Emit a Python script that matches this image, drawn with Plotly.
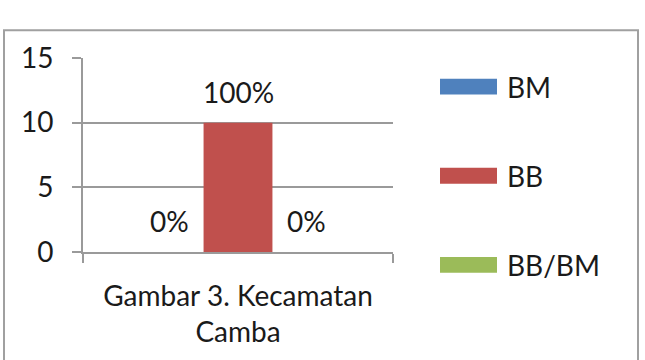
import plotly.graph_objects as go

categories = ["Gambar 3. Kecamatan<br>Camba"]
series_names = ["BM", "BB", "BB/BM"]
series_values = [0, 10, 0]
data_labels = ["0%", "100%", "0%"]
series_colors = ["#4F81BD", "#C0504D", "#9BBB59"]
y_ticks = [0, 5, 10, 15]

FONT = "Lato"
FS = 28
TXT = "#1a1a1a"
GRID = "#9A9A9A"

W, H = 645, 360
ml, mr, mt, mb = 83, 252, 58, 106
plot_w = W - ml - mr
plot_h = H - mt - mb
bargap = 1/3
bar_w = plot_w * (1 - bargap) / len(series_names)


def px_x(p):
    return (p - ml) / plot_w


def px_y(p):
    return (H - mb - p) / plot_h


fig = go.Figure()
for name, val, col in zip(series_names, series_values, series_colors):
    fig.add_trace(go.Bar(name=name, x=categories, y=[val], marker_color=col,
                         marker_line_width=0, showlegend=False))

n = len(series_names)
for i, (val, lab) in enumerate(zip(series_values, data_labels)):
    fig.add_annotation(x=categories[0], y=val, text=lab, showarrow=False,
                       xshift=(i - (n - 1) / 2) * bar_w, yshift=31,
                       yanchor="middle", font=dict(family=FONT, size=FS, color=TXT))

# outer chart border
fig.add_shape(type="rect", xref="paper", yref="paper",
              x0=px_x(4), x1=px_x(638), y0=px_y(365), y1=px_y(30),
              line=dict(color="#A0A0A0", width=2), fillcolor="rgba(0,0,0,0)", layer="below")

# legend (manual, wide swatches)
leg_x0, leg_x1, leg_text_x = 440, 497, 505
leg_y_first, leg_step, sw_h = 87, 90, 16
for i, (name, col) in enumerate(zip(series_names, series_colors)):
    yc = leg_y_first + i * leg_step
    fig.add_shape(type="rect", xref="paper", yref="paper",
                  x0=px_x(leg_x0), x1=px_x(leg_x1),
                  y0=px_y(yc + sw_h / 2), y1=px_y(yc - sw_h / 2),
                  line=dict(width=0), fillcolor=col)
    fig.add_annotation(xref="paper", yref="paper", x=px_x(leg_text_x), y=px_y(yc),
                       xanchor="left", yanchor="middle", text=name, showarrow=False,
                       font=dict(family=FONT, size=FS, color=TXT))

fig.update_layout(
    width=W, height=H,
    margin=dict(l=ml, r=mr, t=mt, b=mb, pad=0),
    paper_bgcolor="white", plot_bgcolor="white",
    barmode="group", bargap=bargap, bargroupgap=0,
    font=dict(family=FONT, size=FS, color=TXT),
    showlegend=False,
    xaxis=dict(showline=True, linecolor=GRID, linewidth=2, ticks="outside",
               tickson="boundaries", ticklen=9, tickcolor=GRID, tickwidth=2,
               showgrid=False, ticklabelstandoff=18,
               tickfont=dict(family=FONT, size=FS, color=TXT)),
    yaxis=dict(range=[0, 15], tickvals=y_ticks, showline=True, linecolor=GRID, linewidth=2,
               ticks="outside", ticklen=9, tickcolor=GRID, tickwidth=2,
               showgrid=True, gridcolor=GRID, gridwidth=2, zeroline=False,
               ticklabelstandoff=13, tickfont=dict(family=FONT, size=FS, color=TXT)),
)

fig.write_html("out.html")
